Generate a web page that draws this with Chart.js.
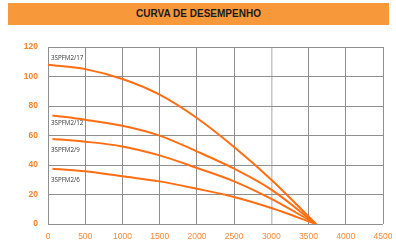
<!DOCTYPE html>
<html>
<head>
<meta charset="utf-8">
<script src="https://cdn.jsdelivr.net/npm/chart.js@4"></script>
<style>
    html, body { margin: 0; padding: 0; background: #fff; }
    #wrap { position: relative; width: 396px; height: 246px; }
    #titlebar {
        position: absolute; left: 8px; top: 3px; width: 381px; height: 22px;
        background: #f7983a; color: #1a1a1a;
        font: bold 10px "Liberation Sans", Arial, sans-serif;
        line-height: 22px; text-align: center;
    }
    canvas { position: absolute; left: 0; top: 0; }
</style>
</head>
<body>
<div id="wrap">
    <div id="titlebar">CURVA DE DESEMPENHO</div>
    <canvas id="chart" width="396" height="246"></canvas>
</div>
<script>
// =====================================
// DATA - curvas de desempenho
// =====================================
const modelNames = ["3SPFM2/17", "3SPFM2/12", "3SPFM2/9", "3SPFM2/6"];

const flow17 = [0, 500, 1000, 1500, 2000, 2500, 3000, 3600];
const head17 = [108, 105, 98.3, 87.7, 71.9, 52.2, 30, 0];

const flow12 = [60, 500, 1000, 1500, 2000, 2500, 3000, 3600];
const head12 = [73.6, 70.7, 66.6, 59.9, 49.2, 37.5, 23.3, 0];

const flow9 = [60, 500, 1000, 1500, 2000, 2500, 3000, 3600];
const head9 = [57.6, 55.8, 52.6, 46.5, 38, 28.9, 17, 0];

const flow6 = [60, 500, 1000, 1500, 2000, 2500, 3000, 3600];
const head6 = [37.5, 35.7, 32.3, 28.9, 23.9, 18.3, 10.8, 0];

const xTicks = [0, 500, 1000, 1500, 2000, 2500, 3000, 3500, 4000, 4500];
const yTicks = [0, 20, 40, 60, 80, 100, 120];

// =====================================
// HELPERS
// =====================================
function toPoints(xs, ys) {
    return xs.map((x, i) => ({ x: x, y: ys[i] }));
}

function curve(label, xs, ys) {
    return {
        label: label,
        data: toPoints(xs, ys),
        borderColor: "#ff6e12",
        borderWidth: 2,
        pointRadius: 0,
        fill: false,
        cubicInterpolationMode: "monotone"
    };
}

// label anchors (data coords) for curve names
const nameAnchors = [[40, 112.5], [40, 68], [40, 50.3], [40, 30]];

const curveLabels = {
    id: "curveLabels",
    afterDatasetsDraw(chart) {
        const { ctx, scales } = chart;
        ctx.save();
        ctx.font = "6.2px 'Open Sans', sans-serif";
        ctx.fillStyle = "#333";
        ctx.textBaseline = "middle";
        modelNames.forEach((name, i) => {
            const px = scales.x.getPixelForValue(nameAnchors[i][0]);
            const py = scales.y.getPixelForValue(nameAnchors[i][1]);
            ctx.fillText(name, px, py);
        });
        ctx.restore();
    }
};

// =====================================
// CHART
// =====================================
new Chart(document.getElementById("chart"), {
    type: "line",
    data: {
        datasets: [
            curve(modelNames[0], flow17, head17),
            curve(modelNames[1], flow12, head12),
            curve(modelNames[2], flow9, head9),
            curve(modelNames[3], flow6, head6)
        ]
    },
    options: {
        responsive: false,
        animation: false,
        layout: { padding: { top: 47, right: 13, left: 0, bottom: 0 } },
        plugins: {
            legend: { display: false },
            title: { display: false },
            tooltip: { enabled: false }
        },
        scales: {
            x: {
                type: "linear",
                min: 0,
                max: 4500,
                afterBuildTicks: s => { s.ticks = xTicks.map(v => ({ value: v })); },
                afterFit: s => { s.height = 22; s.paddingLeft = 0; s.paddingRight = 0; },
                border: { display: false },
                grid: {
                    drawTicks: false,
                    color: c => c.tick && c.tick.value === 3000 ? "#c8c8c8" : "#8f8f8f",
                    lineWidth: c => c.tick && c.tick.value === 3000 ? 1.6 : 1
                },
                ticks: {
                    padding: 8,
                    color: "#f5893a",
                    font: { family: "Liberation Sans", size: 8.5 },
                    callback: v => String(v)
                }
            },
            y: {
                min: 0,
                max: 120,
                afterBuildTicks: s => { s.ticks = yTicks.map(v => ({ value: v })); },
                afterFit: s => { s.width = 48; s.paddingTop = 0; s.paddingBottom = 0; },
                border: { display: false },
                grid: { drawTicks: false, color: "#8f8f8f", lineWidth: 1 },
                ticks: {
                    padding: 10,
                    color: "#f5832c",
                    font: { family: "Liberation Sans", size: 8.5, weight: "bold" }
                }
            }
        }
    },
    plugins: [curveLabels]
});
</script>
</body>
</html>
